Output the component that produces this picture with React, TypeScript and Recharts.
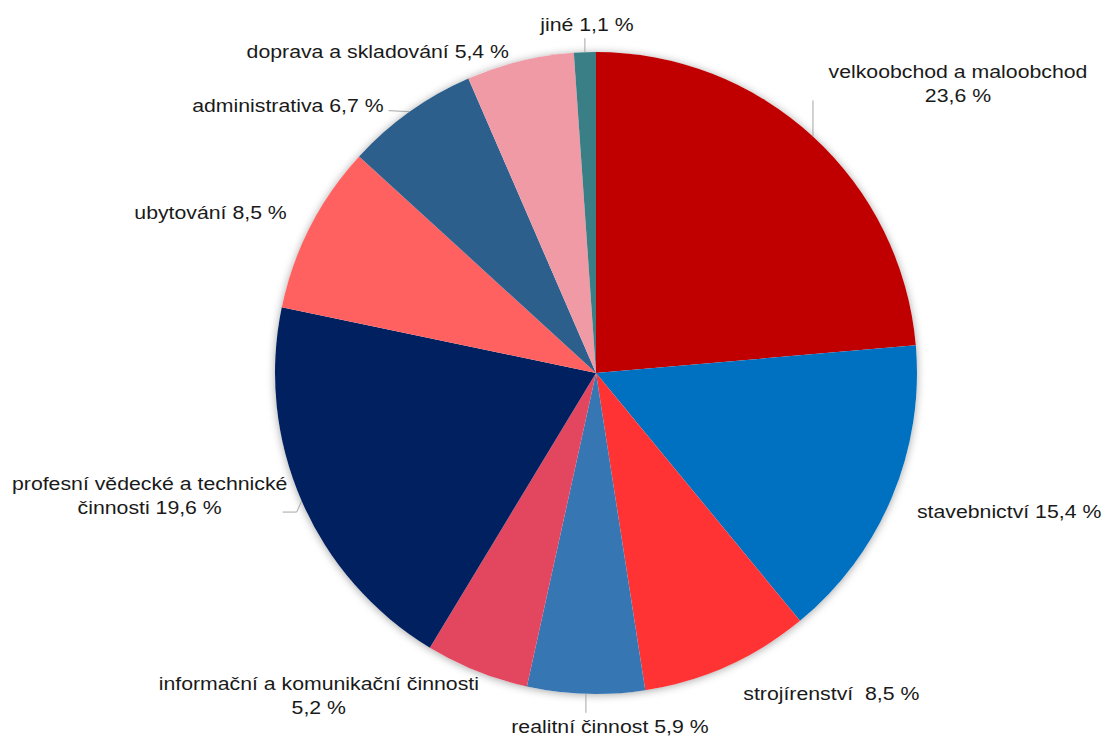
import React from "react";
import { PieChart, Pie, Cell } from "recharts";

const categories = [
  "velkoobchod a maloobchod",
  "stavebnictví",
  "strojírenství",
  "realitní činnost",
  "informační a komunikační činnosti",
  "profesní vědecké a technické činnosti",
  "ubytování",
  "administrativa",
  "doprava a skladování",
  "jiné",
];
const values = [23.6, 15.4, 8.5, 5.9, 5.2, 19.6, 8.5, 6.7, 5.4, 1.1];
const labelLines = [
  ["velkoobchod a maloobchod", "23,6 %"],
  ["stavebnictví 15,4 %"],
  ["strojírenství \u00a08,5 %"],
  ["realitní činnost 5,9 %"],
  ["informační a komunikační činnosti", "5,2 %"],
  ["profesní vědecké a technické", "činnosti 19,6 %"],
  ["ubytování 8,5 %"],
  ["administrativa 6,7 %"],
  ["doprava a skladování 5,4 %"],
  ["jiné 1,1 %"],
];
const colors = [
  "#C00000",
  "#0070C0",
  "#FF3333",
  "#3676B2",
  "#E2475F",
  "#002060",
  "#FF6161",
  "#2C5F8B",
  "#F09AA5",
  "#3A7E86",
];

// label layout: offset of text from the slice's outer edge point, anchor, and leader path
const layout = [
  { dx: 145, dy: -58, anchor: "middle", leader: [[0, 0], [0, -36]] },
  { dx: 25, dy: 21, anchor: "start", leader: null },
  { dx: 16, dy: 34, anchor: "start", leader: null },
  { dx: 24, dy: 39, anchor: "middle", leader: [[0, 0], [0, 19]] },
  { dx: -158, dy: 18.5, anchor: "middle", leader: null },
  { dx: -152, dy: -11.4, anchor: "middle", leader: [[0, 0], [-5, 11], [-19, 11]] },
  { dx: -23.5, dy: -8, anchor: "end", leader: null },
  { dx: -26, dy: 0, anchor: "end", leader: [[0, 0], [-21, -1]] },
  { dx: -11, dy: -3.6, anchor: "end", leader: null },
  { dx: 2, dy: -21, anchor: "middle", leader: [[0, 0], [0, -14]] },
];

const data = categories.map((name, i) => ({ name, value: values[i] }));
const shadowData = [{ name: "bg", value: 1 }];

const RAD = Math.PI / 180;
const SX = 1.15;

const renderLabel = (props: any) => {
  const { cx, cy, midAngle, outerRadius, index } = props;
  const ex = cx + outerRadius * Math.cos(-midAngle * RAD);
  const ey = cy + outerRadius * Math.sin(-midAngle * RAD);
  const l = layout[index];
  const lines = labelLines[index];
  return (
    <g key={`lbl-${index}`}>
      {l.leader && (
        <polyline
          points={l.leader.map((p) => `${ex + p[0]},${ey + p[1]}`).join(" ")}
          fill="none"
          stroke="#A6A6A6"
          strokeWidth={1}
        />
      )}
      <g transform={`translate(${ex + l.dx},${ey + l.dy}) scale(${SX},1)`}>
        <text
          x={0}
          y={0}
          textAnchor={l.anchor as any}
          fill="#1a1a1a"
          fontSize={18.5}
          fontFamily="'Liberation Sans', Arial, sans-serif"
        >
          {lines.map((t, k) => (
            <tspan key={k} x={0} dy={k === 0 ? 0 : 24}>
              {t}
            </tspan>
          ))}
        </text>
      </g>
    </g>
  );
};

export default function App() {
  return (
    <div style={{ position: "fixed", left: 0, top: 0, width: 1106, height: 738, background: "#fff" }}>
      <PieChart width={1106} height={738} margin={{ top: 0, right: 0, bottom: 0, left: 0 }}>
        <Pie
          data={shadowData}
          dataKey="value"
          cx={596}
          cy={373}
          outerRadius={321}
          startAngle={90}
          endAngle={-270}
          isAnimationActive={false}
          stroke="none"
          style={{ filter: "drop-shadow(0px 1px 4px rgba(0,0,0,0.35))" }}
        >
          <Cell fill="#ffffff" />
        </Pie>
        <Pie
          data={data}
          dataKey="value"
          nameKey="name"
          cx={596}
          cy={373}
          outerRadius={321}
          startAngle={90}
          endAngle={-270}
          isAnimationActive={false}
          stroke="none"
          label={renderLabel}
          labelLine={false}
        >
          {data.map((d, i) => (
            <Cell key={d.name} fill={colors[i]} />
          ))}
        </Pie>
      </PieChart>
    </div>
  );
}
